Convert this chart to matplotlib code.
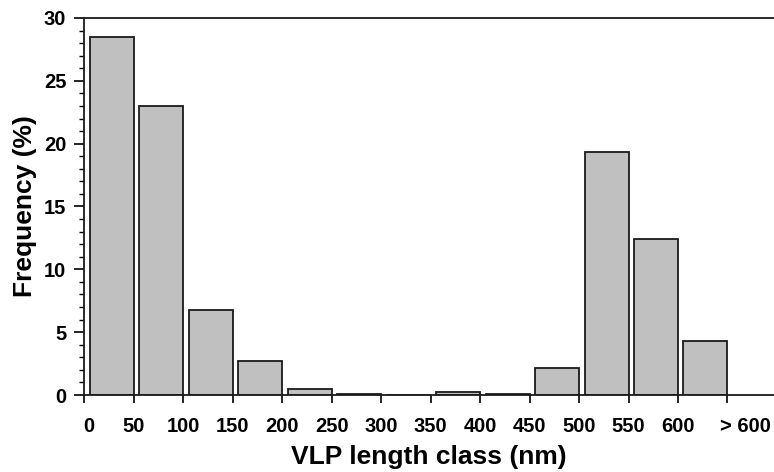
import matplotlib.pyplot as plt
import matplotlib.transforms as mtransforms
import numpy as np

plt.rcParams['font.family'] = ['Liberation Sans', 'DejaVu Sans']
plt.rcParams['font.weight'] = 'bold'

# length classes (left edge, nm) and frequency (%)
class_start = [0, 50, 100, 150, 200, 250, 300, 350, 400, 450, 500, 550, 600]
frequency = [28.5, 23.0, 6.8, 2.7, 0.45, 0.1, 0.0, 0.26, 0.08, 2.15, 19.3, 12.4, 4.3]
tick_pos = [0, 50, 100, 150, 200, 250, 300, 350, 400, 450, 500, 550, 600, 650]
tick_labels = ["0", "50", "100", "150", "200", "250", "300", "350", "400",
               "450", "500", "550", "600", "> 600"]

gap = 5.5

fig = plt.figure(figsize=(7.74, 4.72), dpi=100)
ax = fig.add_axes([0.109, 0.163, 0.891, 0.799])

left = np.array(class_start) + gap
ax.bar(left, frequency, width=50 - gap, align='edge', color='#c0c0c0',
       edgecolor='#1a1a1a', linewidth=1.3, zorder=2)

ax.set_xlim(0, 697)
ax.set_ylim(0, 30)
ax.set_xticks(tick_pos)
ax.set_xticklabels(tick_labels)
ax.set_yticks(np.arange(0, 31, 5))
ax.set_yticks(np.arange(0, 31, 1), minor=True)

ax.tick_params(axis='x', direction='out', length=6, width=1.2, pad=10,
               labelsize=14.5)
ax.tick_params(axis='y', which='major', direction='out', length=7, width=1.2,
               pad=6, labelsize=14.5)
ax.tick_params(axis='y', which='minor', direction='out', length=3.5, width=1.0)
ax.tick_params(axis='x', which='minor', bottom=False)

# shift the "0" and "> 600" labels a bit to the right of their ticks
labs = ax.get_xticklabels()
for lab, dx in [(labs[0], 4), (labs[-1], 18)]:
    lab.set_transform(lab.get_transform() +
                      mtransforms.ScaledTranslation(dx / 100, 0, fig.dpi_scale_trans))

for s in ['left', 'bottom', 'top']:
    ax.spines[s].set_linewidth(1.3)
    ax.spines[s].set_color('#1a1a1a')
ax.spines['right'].set_visible(False)

ax.set_ylabel("Frequency (%)", fontsize=19, fontweight='bold', labelpad=5)
ax.set_xlabel("VLP length class (nm)", fontsize=19, fontweight='bold', labelpad=6)

fig.savefig("out.png", dpi=100)
